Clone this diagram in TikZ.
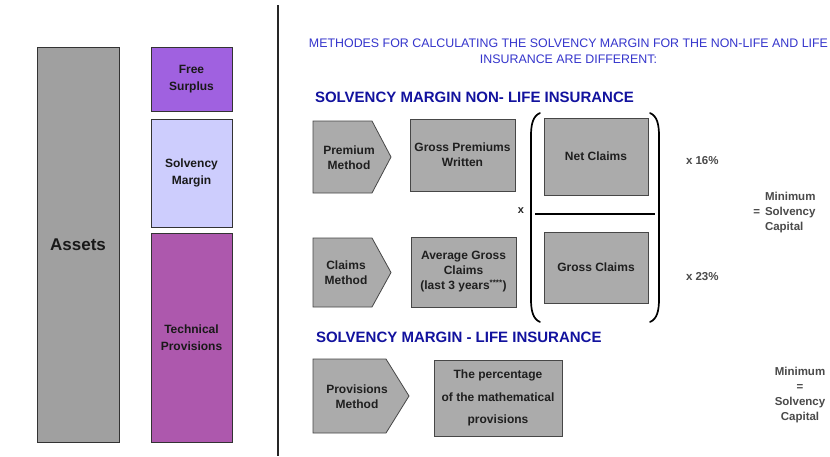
\documentclass[tikz,border=0pt]{standalone}
\usepackage{fontspec}
\setmainfont{Liberation Sans}
\begin{document}
\definecolor{assetgray}{HTML}{A0A0A0}
\definecolor{boxgray}{HTML}{ABABAB}
\definecolor{surplus}{HTML}{A061E0}
\definecolor{margin}{HTML}{CDCDFD}
\definecolor{provis}{HTML}{AD58AD}
\definecolor{titleblue}{HTML}{3535CC}
\definecolor{headblue}{HTML}{12129E}
\definecolor{notegray}{HTML}{4A4A4A}
\begin{tikzpicture}[x=1pt,y=-1pt,
  every node/.style={inner sep=0pt,outer sep=0pt},
  barbox/.style={draw=black!80,line width=1pt,align=center,text=black!90,
    font=\fontsize{12}{17.5}\selectfont\bfseries},
  greybox/.style={draw=black!72,fill=boxgray,line width=0.8pt,align=center,
    text=black!88,font=\fontsize{12}{15}\selectfont\bfseries},
  arrowshape/.style={draw=black!72,fill=boxgray,line width=0.8pt,line join=miter},
  methodtext/.style={align=center,text=black!88,font=\fontsize{12}{15}\selectfont\bfseries},
  header/.style={anchor=west,text=headblue,font=\fontsize{15}{18}\selectfont\bfseries},
  note/.style={text=notegray,font=\fontsize{11.5}{15}\selectfont\bfseries},
  paren/.style={line width=1.7pt,line cap=round}]
\useasboundingbox (0,0) rectangle (830,456);
\fill[white] (0,0) rectangle (830,456);

% balance sheet bars
\node[barbox,fill=assetgray,minimum width=82pt,minimum height=395pt,
  font=\fontsize{17}{20}\selectfont\bfseries] (assets) at (78,244.5) {Assets};
\node[barbox,fill=surplus,minimum width=81pt,minimum height=64pt] (free) at (191.5,79) {Free\\Surplus};
\node[barbox,fill=margin,minimum width=81pt,minimum height=108pt] (solv) at (191.5,173) {Solvency\\Margin};
\node[barbox,fill=provis,minimum width=81pt,minimum height=209pt] (tech) at (191.5,337.5) {Technical\\Provisions};

% separator
\coordinate (septop) at (278,5);
\coordinate (sepbot) at (278,456);
\draw[line width=1.2pt,black!85] (septop) -- (sepbot);

% heading
\node[align=center,text=titleblue,font=\fontsize{12.4}{16}\selectfont] (title) at (568.5,51)
  {METHODES FOR CALCULATING THE SOLVENCY MARGIN FOR THE NON-LIFE AND LIFE\\INSURANCE ARE DIFFERENT:};

% non-life
\node[header] (hnonlife) at (315,97) {SOLVENCY MARGIN NON- LIFE INSURANCE};

\draw[arrowshape] (313,121) -- (372,121) -- (391,157) -- (372,193) -- (313,193) -- cycle;
\node[methodtext] (premium) at (349,158) {Premium\\Method};
\draw[arrowshape] (313,238) -- (372,238) -- (391,272.5) -- (372,307) -- (313,307) -- cycle;
\node[methodtext] (claims) at (346,273) {Claims\\Method};

\node[greybox,minimum width=105pt,minimum height=72pt] (gpw) at (462.5,155) {Gross Premiums\\Written};
\node[greybox,minimum width=105pt,minimum height=70pt] (agc) at (463.5,272) {Average Gross\\Claims\\(last 3 years\textsuperscript{****})};

\node[font=\fontsize{11}{13}\selectfont\bfseries,text=black!85] (times) at (521,211) {x};

\node[greybox,minimum width=104pt,minimum height=77pt] (net) at (596,156.5) {Net Claims};
\node[greybox,minimum width=104pt,minimum height=71pt] (gross) at (596,267.5) {Gross Claims};

\coordinate (fracl) at (535,214);
\coordinate (fracr) at (655,214);
\draw[line width=1.4pt] (fracl) -- (fracr);

\coordinate (lpt) at (540,113);
\coordinate (lpb) at (540,322);
\coordinate (rpt) at (650,113);
\coordinate (rpb) at (650,322);
\draw[paren] (lpt) .. controls (533,116) and (531,124) .. (531,136) -- (531,299)
  .. controls (531,311) and (533,319) .. (lpb);
\draw[paren] (rpt) .. controls (657,116) and (659,124) .. (659,136) -- (659,299)
  .. controls (659,311) and (657,319) .. (rpb);

\node[note,anchor=west] (p16) at (686,161) {x 16\%};
\node[note,anchor=west] (p23) at (686,277) {x 23\%};
\node[note,anchor=west,align=left] (mscnl) at (765,213) {Minimum\\Solvency\\Capital};
\node[note,anchor=east] (eqnl) at (760,213) {=};

% life
\node[header] (hlife) at (316,337) {SOLVENCY MARGIN - LIFE INSURANCE};
\draw[arrowshape] (313,359) -- (386,359) -- (409,396) -- (386,433) -- (313,433) -- cycle;
\node[methodtext] (provm) at (357,397) {Provisions\\Method};
\node[greybox,minimum width=128pt,minimum height=76pt,
  font=\fontsize{12}{22.5}\selectfont\bfseries] (pct) at (498,398)
  {The percentage\\of the mathematical\\provisions};
\node[note,align=center,font=\fontsize{11.5}{14.7}\selectfont\bfseries] (mscl) at (800,395)
  {Minimum\\=\\Solvency\\Capital};
\end{tikzpicture}
\end{document}
